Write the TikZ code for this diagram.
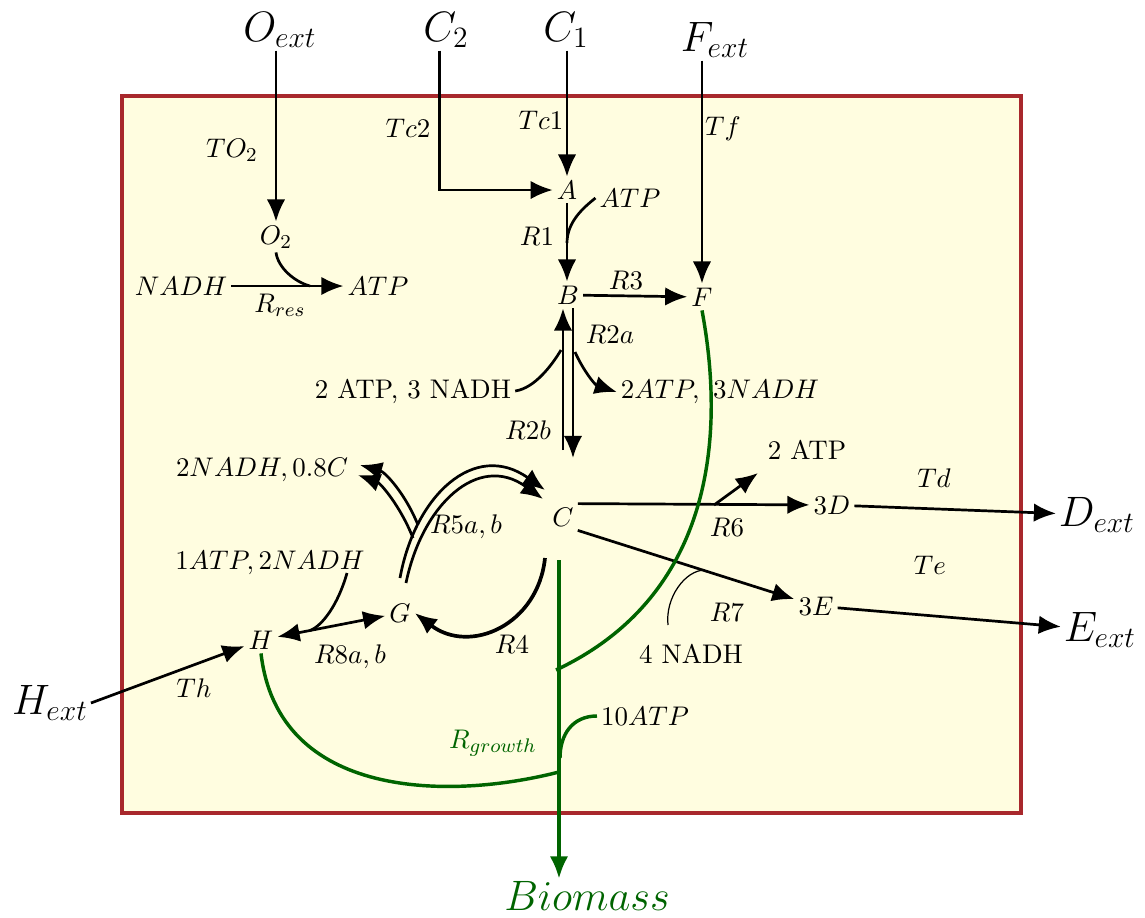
\documentclass[tikz,border=0pt,11pt]{standalone}
\usetikzlibrary{arrows.meta}
\definecolor{cellFill}{HTML}{FFFDE0}
\definecolor{cellEdge}{HTML}{A8282C}
\definecolor{cellGreen}{HTML}{006400}
\tikzset{
  cell box/.style={draw=cellEdge, fill=cellFill, line width=1.6pt},
  cell flux/.style={line width=1.1pt, ->},
  cell link/.style={line width=1.1pt},
  cell thin/.style={line width=0.5pt},
  cell growth/.style={draw=cellGreen, line width=1.4pt},
  cell met/.style={inner sep=1.5pt},
  cell ext/.style={font=\LARGE, inner sep=1pt},
  cell rxn/.style={inner sep=1pt},
  >={Latex[length=9pt,width=7.5pt]},
}

\begin{document}
\begin{tikzpicture}[x=1.4286mm, y=-1.4286mm]
  \useasboundingbox (0,0) rectangle (114.5,91.7);
  % cell boundary
  \draw[cell box] (12.2,9.6) rectangle (102.1,81.3);

  % external pools
  \node[cell ext] (Oext) at (28.0,3.0) {$O_{ext}$};
  \node[cell ext] (Ctwo) at (44.6,3.0) {$C_2$};
  \node[cell ext] (Cone) at (56.6,3.0) {$C_1$};
  \node[cell ext] (Fext) at (71.5,4.0) {$F_{ext}$};
  \node[cell ext] (Dext) at (109.7,51.5) {$D_{ext}$};
  \node[cell ext] (Eext) at (110.0,63.0) {$E_{ext}$};
  \node[cell ext] (Hext) at (5.0,70.3) {$H_{ext}$};
  \node[cell ext, text=cellGreen] (Biomass) at (58.7,89.6) {$Biomass$};

  % metabolites
  \foreach \n/\x/\y/\t in {A/56.7/19.0/A, B/56.8/29.5/B, F/70.2/29.7/F, C/56.3/51.7/C,
      G/40.0/61.3/G, H/26.1/64.0/H, O2/27.6/23.7/O_2, D/83.2/50.5/3D, E/81.6/60.6/3E}
    \node[cell met] (\n) at (\x,\y) {$\t$};

  % cofactors
  \node[cell met] (nadh) at (18.1,28.6) {$NADH$};
  \node[cell met] (atpres) at (37.8,28.6) {$ATP$};
  \node[cell met] (atpA) at (63.0,19.8) {$ATP$};
  \node[cell met] (ntwoL) at (41.3,39.1) {2 ATP, 3 NADH};
  \node[cell met] (ntwoR) at (72.0,39.2) {$2ATP,\ 3NADH$};
  \node[cell met] (atpsix) at (80.7,45.0) {2 ATP};
  \node[cell met] (nadhseven) at (69.1,65.4) {4 NADH};
  \node[cell met] (nadhfive) at (26.2,47.0) {$2NADH, 0.8C$};
  \node[cell met] (atpeight) at (27.0,56.3) {$1ATP, 2NADH$};
  \node[cell met] (atpgrow) at (64.5,71.6) {$10ATP$};

  % reaction labels
  \foreach \n/\x/\y/\t in {TOtwo/23.2/15.0/TO_2, Tctwo/40.8/12.8/Tc2, Tcone/54.1/12.0/Tc1,
      Tf/72.3/12.9/Tf, Rres/28.0/30.5/R_{res}, Rone/53.7/23.6/R1, Rthree/62.6/28.0/R3,
      Rtwoa/61.0/33.4/R2a, Rtwob/52.8/43.0/R2b, Rsix/72.7/52.7/R6, Rseven/72.7/61.2/R7,
      Td/93.4/47.8/Td, Te/93.0/56.5/Te, Rfour/51.2/64.4/R4, Th/19.4/68.8/Th}
    \node[cell rxn] (\n) at (\x,\y) {$\t$};
  \node[cell rxn] (Rfive) at (46.6,52.7) {$R5a,b$};
  \node[cell rxn] (Reight) at (35.0,65.7) {$R8a,b$};
  \node[cell rxn, text=cellGreen] (Rgrowth) at (49.3,74.3) {$R_{growth}$};

  % uptake
  \draw[cell flux] (Oext.south -| O2) -- (O2);
  \draw[cell flux] ([xshift=-0.9mm]Ctwo.south) |- (A);
  \draw[cell flux] (Cone.south -| A) -- (A);
  \draw[cell flux] (Fext.south -| F) -- (F);

  % respiration
  \coordinate (resj) at (31.0,28.6);
  \draw[cell flux] (nadh) -- (atpres);
  \draw[cell link] (O2.south) .. controls (27.8,26.8) and (29.5,28.2) .. (resj);

  % R1, R3
  \coordinate (r1j) at (56.7,24.3);
  \draw[cell flux] (A) -- (A |- B.north);
  \draw[cell link] (atpA.west) .. controls (58.3,20.8) and (56.7,22.2) .. (r1j);
  \draw[cell flux] (B) -- (F);

  % R2a / R2b
  \coordinate (r2bs) at (56.3,45.0);
  \coordinate (r2ae) at (57.3,45.8);
  \coordinate (r2bj) at (56.1,35.0);
  \coordinate (r2aj) at (57.5,35.2);
  \draw[cell flux] (r2bs) -- (r2bs |- B.south);
  \draw[cell flux] (r2ae |- B.south) -- (r2ae);
  \draw[cell link] (ntwoL.east) .. controls (53.5,38.8) and (55.2,36.5) .. (r2bj);
  \draw[cell flux] (r2aj) .. controls (58.3,37.0) and (59.5,38.5) .. (ntwoR.west);

  % R6, R7
  \coordinate (r6j) at (71.4,50.5);
  \coordinate (r6e) at (75.8,47.3);
  \coordinate (r7j) at (70.5,57.0);
  \coordinate (r7s) at (66.8,62.5);
  \draw[cell flux] (C.north east) -- (D);
  \draw[cell flux] (r6j) -- (r6e);
  \draw[cell flux] (C.south east) -- (E);
  \draw[cell thin] (r7s) .. controls (66.5,59.8) and (68.5,57.0) .. (r7j);

  % export
  \draw[cell flux] (D) -- (Dext);
  \draw[cell flux] (E) -- (Eext);

  % H uptake and R8
  \coordinate (r8s) at (34.7,57.3);
  \coordinate (r8j) at (31.0,63.05);
  \draw[cell flux] (Hext.east) -- (H);
  \draw[cell flux, <->] (H) -- (G);
  \draw[cell link] (r8s) .. controls (33.8,60.5) and (32.2,62.6) .. (r8j);

  % R4
  \coordinate (r4s) at (54.5,55.8);
  \draw[cell flux, line width=1.5pt] (r4s) .. controls (53.8,62.5) and (47.0,65.5) .. (G.east);

  % R5a,b
  \coordinate (r5a) at (40.0,57.8);
  \coordinate (r5b) at (40.6,58.3);
  \coordinate (r5c) at (54.5,49.0);
  \coordinate (r5d) at (54.3,49.9);
  \coordinate (r5e) at (41.8,52.5);
  \coordinate (r5f) at (36.0,46.5);
  \coordinate (r5g) at (41.3,53.8);
  \coordinate (r5h) at (35.8,47.5);
  \draw[cell flux] (r5a) .. controls (41.5,49.5) and (47.5,44.0) .. (r5c);
  \draw[cell flux] (r5b) .. controls (42.2,50.5) and (47.8,45.2) .. (r5d);
  \draw[cell flux] (r5e) .. controls (40.5,49.3) and (38.5,47.2) .. (r5f);
  \draw[cell flux] (r5g) .. controls (40.0,50.5) and (38.0,48.3) .. (r5h);

  % growth
  \coordinate (gtop) at (55.9,56.0);
  \coordinate (gF) at (55.6,67.0);
  \coordinate (gH) at (55.9,77.2);
  \coordinate (gA) at (56.0,75.8);
  \draw[cell growth, ->] (gtop) -- (gtop |- Biomass.north);
  \draw[cell growth] (F.south) .. controls (72.8,45.0) and (70.5,60.0) .. (gF);
  \draw[cell growth] (H.south) .. controls (27.8,80.0) and (45.0,80.0) .. (gH);
  \draw[cell growth] (atpgrow.west) .. controls (57.2,71.6) and (56.0,73.5) .. (gA);
\end{tikzpicture}
\end{document}
